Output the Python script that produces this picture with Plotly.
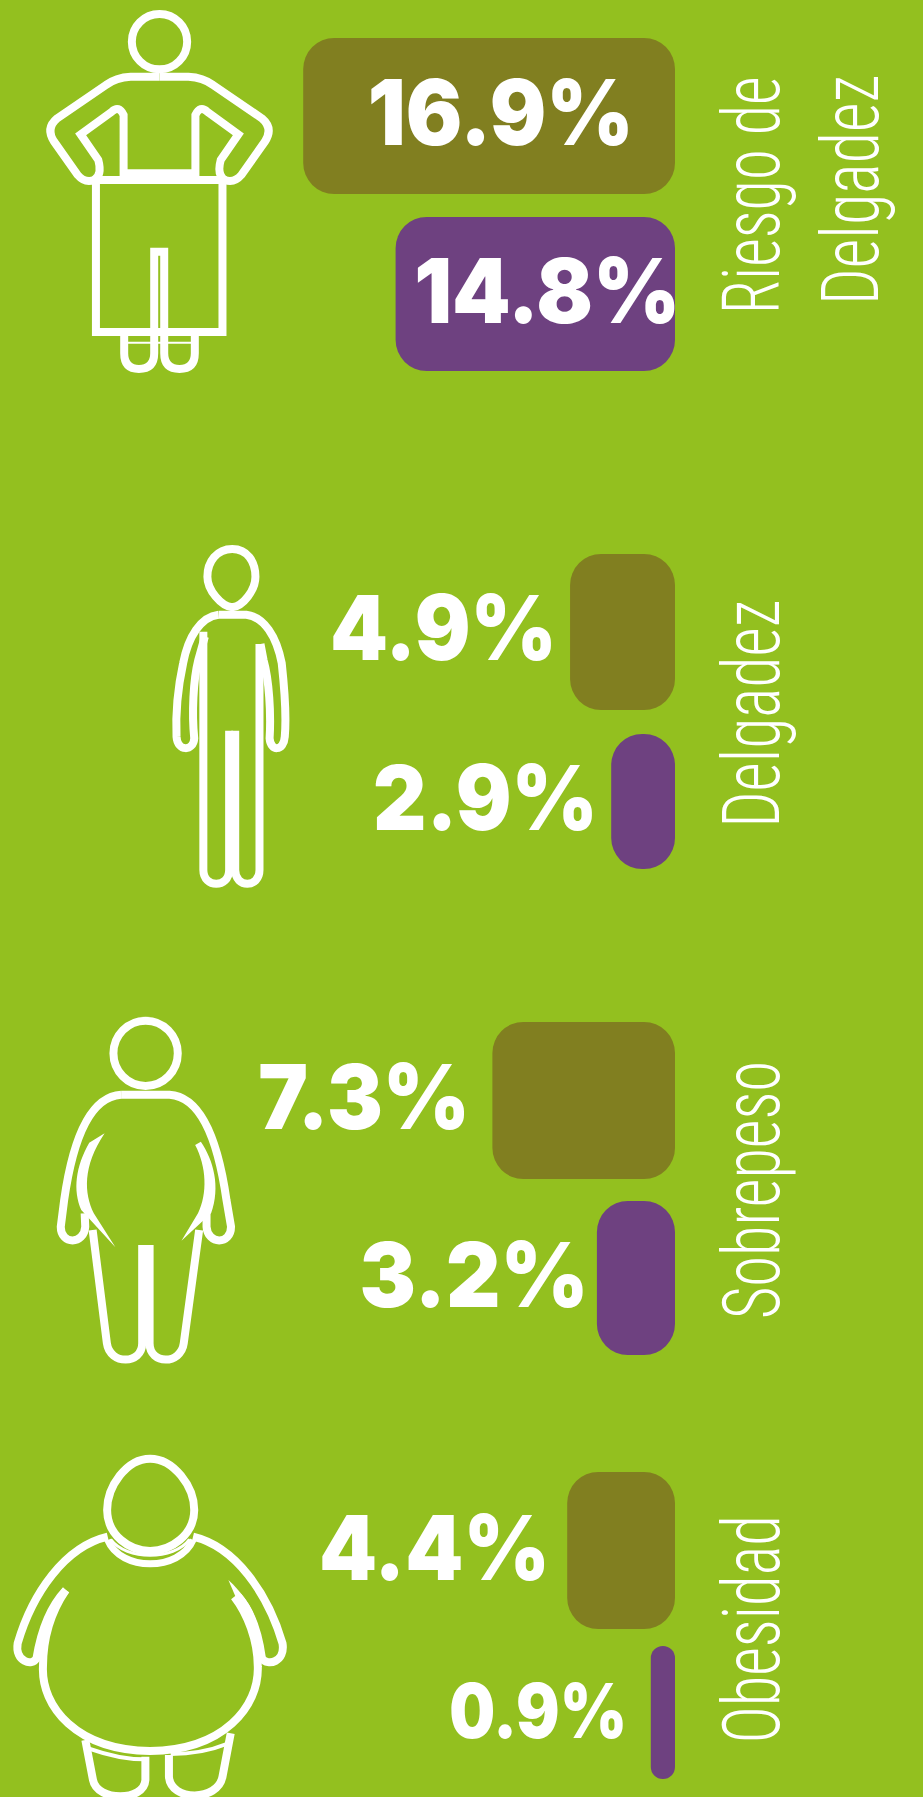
import re
import json
import plotly.graph_objects as go

# ---------- data ----------
categories = ["Riesgo de Delgadez", "Delgadez", "Sobrepeso", "Obesidad"]
labels_a = ["16.9%", "4.9%", "7.3%", "4.4%"]
labels_b = ["14.8%", "2.9%", "3.2%", "0.9%"]
# drawn bar lengths, in percent-axis units
lengths_a = [16.9, 4.77, 8.3, 4.9]
lengths_b = [12.7, 2.9, 3.55, 1.1]

BG = "#93C01F"
OLIVE = "#817F20"
PURPLE = "#6E4180"
WHITE = "#FFFFFF"
W, H = 923, 1797
ZERO_PX = 675
PX_PER_UNIT = 22.0

# layout of rows, in page pixels (y axis runs in pixels)
centers_a = [116, 632, 1100.5, 1550.5]
thick_a = [156, 156, 157, 157]
centers_b = [294, 801.5, 1278, 1712.5]
thick_b = [154, 135, 154, 133]

# label layout: centre x px, centre y px, font size, width in px
lab_a = [(501, 112, 90, 266), (443, 627, 90, 227), (364, 1096, 90, 212), (434, 1547, 90, 231)]
lab_b = [(547, 290, 90, 266), (485, 797, 90, 225), (474, 1274, 90, 229), (537.5, 1710, 75, 178)]

fig = go.Figure()


def to_x(px):
    return (ZERO_PX - px) / PX_PER_UNIT


def add_bar(length, centre, thick, color):
    radius = min(31, length * PX_PER_UNIT / 2)
    fig.add_trace(go.Bar(
        orientation="h", y=[centre], x=[length], base=[0], width=[thick],
        marker=dict(color=color, line=dict(width=0), cornerradius=radius),
        hoverinfo="skip", showlegend=False))


for i in range(4):
    add_bar(lengths_a[i], centers_a[i], thick_a[i], OLIVE)
    add_bar(lengths_b[i], centers_b[i], thick_b[i], PURPLE)

ann = []
widths = []
for (cx, c, s, w), t in zip(lab_a + lab_b, labels_a + labels_b):
    widths.append(w)
    ann.append(dict(x=to_x(cx), y=c, xref="x", yref="y", text=t, showarrow=False,
                    xanchor="center", yanchor="middle",
                    font=dict(family="Inter", size=s, color=WHITE, weight=900)))

side = [("Riesgo de", 752, 196, 238), ("Delgadez", 851, 190, 230), ("Delgadez", 752, 714, 228),
        ("Sobrepeso", 752, 1190, 258), ("Obesidad", 752, 1629, 228)]
for t, px, py, w in side:
    widths.append(w)
    ann.append(dict(x=to_x(px), y=py, xref="x", yref="y", text=t, showarrow=False,
                    textangle=-90, xanchor="center", yanchor="middle",
                    font=dict(family="Roboto Condensed", size=79, color=WHITE, weight=300)))

# ---------- decorative figures, drawn as outlines ----------
shapes = []


def conv(path, sx, sy, ox, oy):
    def rep(m):
        x = float(m.group(1)) / sx + ox
        y = float(m.group(2)) / sy + oy
        return f"{x / W:.5f},{1 - y / H:.5f}"
    return re.sub(r"(-?[\d.]+),(-?[\d.]+)", rep, path)


def mirror(path, cx):
    return re.sub(r"(-?[\d.]+),(-?[\d.]+)",
                  lambda m: f"{2 * cx - float(m.group(1))},{m.group(2)}", path)


def ell(cx, cy, rx, ry):
    k = 0.5523
    return (f"M {cx},{cy - ry} C {cx + k * rx},{cy - ry} {cx + rx},{cy - k * ry} {cx + rx},{cy} "
            f"C {cx + rx},{cy + k * ry} {cx + k * rx},{cy + ry} {cx},{cy + ry} "
            f"C {cx - k * rx},{cy + ry} {cx - rx},{cy + k * ry} {cx - rx},{cy} "
            f"C {cx - rx},{cy - k * ry} {cx - k * rx},{cy - ry} {cx},{cy - ry} Z")


def stroke(paths, tf, w=8):
    for p in paths:
        shapes.append(dict(type="path", xref="paper", yref="paper", path=conv(p, *tf),
                           line=dict(color=WHITE, width=w), layer="above"))


def fill(paths, tf):
    for p in paths:
        shapes.append(dict(type="path", xref="paper", yref="paper", path=conv(p, *tf),
                           line=dict(width=0), fillcolor=WHITE, layer="above"))


# figure 1
t1 = (1.699, 3, 0, 0)
arm1 = ("M 271,230 L 320,230 Q 345,232 362,255 L 445,355 Q 465,385 450,425 L 410,525 "
        "Q 398,550 382,540 Q 368,525 375,480 L 405,403 L 352,335 Q 340,315 332,345 L 332,530")
stroke([ell(271, 125, 47, 83), arm1, mirror(arm1, 271),
        "M 157,540 L 385,540",
        "M 163,540 L 163,996 L 378,996 L 378,540",
        "M 262,1000 L 262,755 L 279,755 L 279,1000",
        "M 211,1008 L 211,1060 Q 211,1107 236,1107 Q 262,1107 262,1060 L 262,1008",
        "M 279,1008 L 279,1060 Q 279,1107 305,1107 Q 331,1107 331,1060 L 331,1008",
        "M 211,520 L 331,520"], t1)
stroke(["M 211,1028 L 331,1028"], t1, 2)

# figure 2
t2 = (1.977, 3, 130, 520)
stroke(["M 202,87 C 232,87 248,125 248,170 C 248,210 224,258 202,262 C 180,258 153,210 153,170 C 153,125 172,87 202,87",
        "M 175,284 L 230,284 C 265,290 290,350 300,430 C 305,500 310,580 306,650 C 304,695 278,695 276,655 C 279,580 275,480 264,420 L 258,372",
        "M 175,284 C 140,290 115,350 105,430 C 95,500 90,580 92,650 C 94,695 125,695 127,655 C 122,580 125,480 135,420 L 148,350",
        "M 256,372 L 256,1050 C 256,1105 208,1105 208,1050 L 208,632",
        "M 196,632 L 196,1050 C 196,1105 145,1105 145,1050 L 145,335"], t2)

# figure 3
t3 = (1.756, 3, 30, 1000)
stroke([ell(203, 160, 56.5, 98),
        "M 160,284 L 245,284 C 300,290 330,420 345,600 L 353,680 C 353,735 312,735 310,680 L 310,640",
        "M 160,284 C 105,290 75,420 60,600 L 54,680 C 54,735 95,735 97,680 L 96,640",
        "M 110,690 L 135,1030 C 140,1095 197,1095 197,1030 L 197,735",
        "M 297,690 L 270,1030 C 265,1095 210,1095 210,1030 L 210,735"], t3)
fill(["M 131,400 L 104,428 C 80,500 75,570 90,630 L 150,742 L 112,640 C 95,580 92,500 131,400 Z",
      "M 290,435 L 300,425 C 322,480 335,560 318,640 L 266,722 L 295,640 C 312,580 310,500 290,435 Z"], t3)

# figure 4
t4 = (1.699, 3, 0, 1440)
stroke(["M 255,56 C 295,56 330,140 330,210 C 330,285 290,333 255,333 C 220,333 182,285 182,210 C 182,140 215,56 255,56",
        "M 328,290 C 400,320 455,460 480,610 C 485,665 455,680 445,655 C 440,590 430,520 405,470",
        "M 183,290 C 110,320 55,460 30,610 C 25,665 55,680 62,655 C 68,590 80,510 112,450",
        "M 112,450 C 85,520 73,600 73,680 C 70,800 130,930 255,933 C 380,930 440,800 438,680 C 438,600 420,520 398,470",
        "M 145,900 L 158,1020 C 165,1085 245,1085 247,1020 L 247,950",
        "M 392,880 L 378,1010 C 370,1085 290,1085 287,1010 L 287,945"], t4)
stroke(["M 183,300 C 205,395 305,395 328,300"], t4, 7)
stroke(["M 188,298 C 215,362 295,362 322,298"], t4, 3)
fill(["M 388,420 C 410,455 428,500 436,545 L 405,490 Z"], t4)
stroke(["M 150,925 C 190,950 220,958 245,958", "M 290,942 C 330,942 360,930 385,912"], t4, 4)

fig.update_layout(
    width=W, height=H, margin=dict(l=0, r=0, t=0, b=0),
    paper_bgcolor=BG, plot_bgcolor=BG, barmode="overlay", showlegend=False,
    xaxis=dict(range=[to_x(0), to_x(W)], visible=False, fixedrange=True),
    yaxis=dict(range=[H, 0], visible=False, fixedrange=True),
    annotations=ann, shapes=shapes)

post = """
document.body.style.margin='0';
var widths = %s;
function fit() {
  document.querySelectorAll('.annotation').forEach(function (a, i) {
    var t = a.querySelector('text');
    if (!t) return;
    var b = t.getBBox(), c = b.x + b.width / 2, s = widths[i] / b.width;
    t.setAttribute('transform', 'translate(' + c + ' 0) scale(' + s + ' 1) translate(' + (-c) + ' 0)');
  });
}
fit(); setTimeout(fit, 50);
""" % json.dumps(widths)
fig.write_html("out.html", config=dict(displayModeBar=False), post_script=post)
